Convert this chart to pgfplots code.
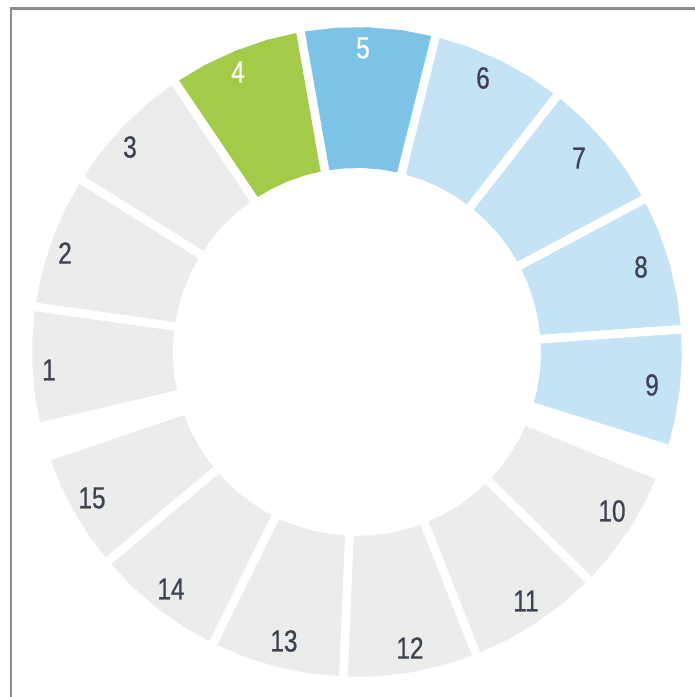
\documentclass[border=0pt]{standalone}
\usepackage{fontspec}
\usepackage{pgfplots}
\pgfplotsset{compat=1.18}
\usepackage{pgfplotstable}
\newfontfamily\lblfont{Liberation Sans}[FakeStretch=0.8, FakeBold=0.6]
\definecolor{segGray}{HTML}{EBECEC}
\definecolor{segGreen}{HTML}{A3CB47}
\definecolor{segBlue}{HTML}{7BC4E8}
\definecolor{segLight}{HTML}{C4E3F5}
\definecolor{txtDark}{HTML}{3F4050}
\definecolor{frameGray}{HTML}{8C8C8C}

\pgfplotstableread{
x y label
-308 -18 1
-292 99 2
-227 205 3
126 274 6
222 194 7
284 85 8
295 -33 9
255 -159 10
169 -249 11
53 -296 12
-73 -289 13
-186 -237 14
-265 -146 15
}\darklabels
\pgfplotstableread{
x y label
-119 280 4
6 304 5
}\whitelabels

\begin{document}
\begin{tikzpicture}
\begin{axis}[
  name=ring,
  x=1pt, y=1pt,
  xmin=-357, xmax=338, ymin=-345, ymax=352,
  hide axis, clip=false,
  seg/.style={data cs=polar, draw=white, line width=8.5pt, line join=miter},
]
% frame (left and top edges)
\addplot[frameGray, line width=2.2pt] coordinates {(-346,-345) (-346,343.5) (338,343.5)};

% segments: (angle, radius)
\addplot[seg, fill=segGray] coordinates {(193.3,329.25) (188,329.25) (182.6,329.25) (177.3,329.25) (172,329.25) (172,179.75) (177.3,179.75) (182.6,179.75) (188,179.75) (193.3,179.75)} --cycle;
\addplot[seg, fill=segGray] coordinates {(172,329.25) (166,329.25) (160,329.25) (154,329.25) (148,329.25) (148,179.75) (154,179.75) (160,179.75) (166,179.75) (172,179.75)} --cycle;
\addplot[seg, fill=segGray] coordinates {(148,329.25) (142,329.25) (136,329.25) (130,329.25) (124,329.25) (124,179.75) (130,179.75) (136,179.75) (142,179.75) (148,179.75)} --cycle;
\addplot[seg, fill=segGreen] coordinates {(124,329.25) (118,329.25) (112,329.25) (106,329.25) (100,329.25) (100,179.75) (106,179.75) (112,179.75) (118,179.75) (124,179.75)} --cycle;
\addplot[seg, fill=segBlue] coordinates {(100,329.25) (94,329.25) (88,329.25) (82,329.25) (76,329.25) (76,179.75) (82,179.75) (88,179.75) (94,179.75) (100,179.75)} --cycle;
\addplot[seg, fill=segLight] coordinates {(76,329.25) (70,329.25) (64,329.25) (58,329.25) (52,329.25) (52,179.75) (58,179.75) (64,179.75) (70,179.75) (76,179.75)} --cycle;
\addplot[seg, fill=segLight] coordinates {(52,329.25) (46,329.25) (40,329.25) (34,329.25) (28,329.25) (28,179.75) (34,179.75) (40,179.75) (46,179.75) (52,179.75)} --cycle;
\addplot[seg, fill=segLight] coordinates {(28,329.25) (22,329.25) (16,329.25) (10,329.25) (4,329.25) (4,179.75) (10,179.75) (16,179.75) (22,179.75) (28,179.75)} --cycle;
\addplot[seg, fill=segLight] coordinates {(4,329.25) (-1.3,329.25) (-6.65,329.25) (-12,329.25) (-17.3,329.25) (-17.3,179.75) (-12,179.75) (-6.65,179.75) (-1.3,179.75) (4,179.75)} --cycle;
\addplot[seg, fill=segGray] coordinates {(-22.3,329.25) (-27.8,329.25) (-33.4,329.25) (-38.9,329.25) (-44.5,329.25) (-44.5,179.75) (-38.9,179.75) (-33.4,179.75) (-27.8,179.75) (-22.3,179.75)} --cycle;
\addplot[seg, fill=segGray] coordinates {(-44.5,329.25) (-50.5,329.25) (-56.5,329.25) (-62.5,329.25) (-68.5,329.25) (-68.5,179.75) (-62.5,179.75) (-56.5,179.75) (-50.5,179.75) (-44.5,179.75)} --cycle;
\addplot[seg, fill=segGray] coordinates {(-68.5,329.25) (-74.5,329.25) (-80.5,329.25) (-86.5,329.25) (-92.4,329.25) (-92.4,179.75) (-86.5,179.75) (-80.5,179.75) (-74.5,179.75) (-68.5,179.75)} --cycle;
\addplot[seg, fill=segGray] coordinates {(267.6,329.25) (261.6,329.25) (255.6,329.25) (249.7,329.25) (243.7,329.25) (243.7,179.75) (249.7,179.75) (255.6,179.75) (261.6,179.75) (267.6,179.75)} --cycle;
\addplot[seg, fill=segGray] coordinates {(243.7,329.25) (237.8,329.25) (231.8,329.25) (225.9,329.25) (220,329.25) (220,179.75) (225.9,179.75) (231.8,179.75) (237.8,179.75) (243.7,179.75)} --cycle;
\addplot[seg, fill=segGray] coordinates {(220,329.25) (214.7,329.25) (209.3,329.25) (204,329.25) (198.7,329.25) (198.7,179.75) (204,179.75) (209.3,179.75) (214.7,179.75) (220,179.75)} --cycle;

% labels
\addplot[draw=none, mark=none, nodes near coords, point meta=explicit symbolic,
  nodes near coords align=center,
  every node near coord/.style={anchor=center, inner sep=0pt, text=txtDark, font=\lblfont\fontsize{30.5}{31}\selectfont}]
  table[x=x, y=y, meta=label] {\darklabels};
\addplot[draw=none, mark=none, nodes near coords, point meta=explicit symbolic,
  nodes near coords align=center,
  every node near coord/.style={anchor=center, inner sep=0pt, text=white, font=\lblfont\fontsize{30.5}{31}\selectfont}]
  table[x=x, y=y, meta=label] {\whitelabels};
\end{axis}
\pgfresetboundingbox
\useasboundingbox (ring.south west) rectangle (ring.north east);
\end{tikzpicture}
\end{document}
